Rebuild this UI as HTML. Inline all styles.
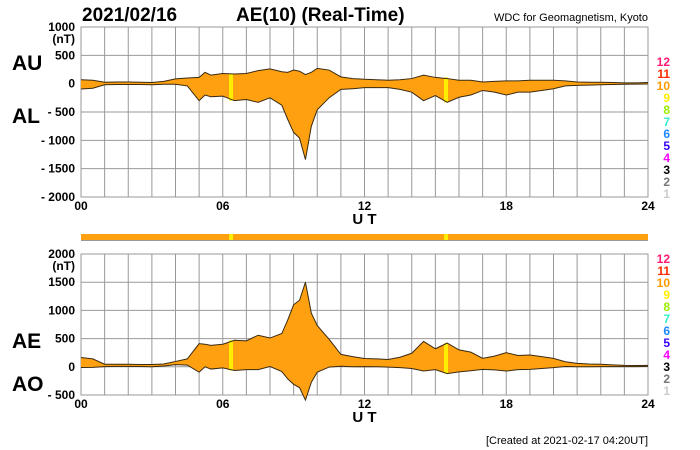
<!DOCTYPE html>
<html><head><meta charset="utf-8">
<style>
body{margin:0;background:#fff;}
svg{display:block;font-family:"Liberation Sans",sans-serif;}
</style></head>
<body>
<svg id="chart" width="700" height="450" viewBox="0 0 700 450">
<rect width="700" height="450" fill="#fff"/>
<text x="82" y="21" font-size="19" font-weight="bold">2021/02/16</text>
<text x="236" y="21" font-size="19" font-weight="bold">AE(10) (Real-Time)</text>
<text x="648" y="21" font-size="11" text-anchor="end">WDC for Geomagnetism, Kyoto</text>
<text x="12" y="70" font-size="21" font-weight="bold">AU</text>
<text x="12" y="123" font-size="21" font-weight="bold">AL</text>
<text x="12" y="348" font-size="21" font-weight="bold">AE</text>
<text x="12" y="391" font-size="21" font-weight="bold">AO</text>
<text x="648" y="444" font-size="11" text-anchor="end">[Created at 2021-02-17 04:20UT]</text>
<g id="top"></g>
<g id="bar"></g>
<g id="bot"></g>
</svg>
<script>
const hours = [0,0.5,1,1.5,2,2.5,3,3.5,4,4.5,5,5.25,5.5,6,6.5,7,7.5,8,8.5,8.75,9,9.25,9.5,9.75,10,10.5,11,11.5,12,12.5,13,13.5,14,14.5,15,15.5,16,16.5,17,17.5,18,18.5,19,19.5,20,20.5,21,21.5,22,22.5,23,23.5,24];
const auValues = [70,60,25,30,30,25,20,40,85,100,110,200,150,180,170,180,230,260,210,200,240,220,160,200,270,240,120,90,77,70,60,70,90,150,110,90,60,60,30,40,50,50,60,60,60,50,30,25,25,20,15,15,20];
const alValues = [-95,-80,-20,-15,-15,-15,-20,-10,-10,-40,-300,-200,-230,-220,-300,-280,-330,-250,-380,-630,-860,-960,-1340,-750,-460,-250,-100,-90,-70,-70,-70,-100,-150,-300,-210,-330,-240,-200,-120,-150,-200,-150,-150,-120,-90,-40,-30,-25,-20,-15,-10,-8,-5];
const stationDrops = [6.35, 15.45];
const topTicks = [1000,500,0,-500,-1000,-1500,-2000];
const botTicks = [2000,1500,1000,500,0,-500];
const xTicks = ["00","06","12","18","24"];
const countLabels = ["12","11","10","9","8","7","6","5","4","3","2","1"];
const countColors = ["#ff1a73","#ff2a00","#ff9900","#ffee00","#99ee00","#33eecc","#1e88ff","#3300ff","#ff00ff","#000","#777","#ccc"];

const NS="http://www.w3.org/2000/svg";
const X0=81,X1=648;
const xs=h=>X0+(X1-X0)*h/24;
function mk(parent,tag,attrs,name){const e=document.createElementNS(NS,tag);for(const k in attrs)e.setAttribute(k,attrs[k]);


parent.appendChild(e);return e;}

function panel(g,yTop,yBot,vMax,vMin,ticks,upper,lower,prefix,countY){
  const ys=v=>yTop+(vMax-v)*(yBot-yTop)/(vMax-vMin);
  mk(g,'rect',{x:X0,y:yTop,width:X1-X0,height:yBot-yTop,fill:'#fff',stroke:'#999'},prefix+'-plot-area');
  for(let h=1;h<24;h++) mk(g,'line',{x1:xs(h),x2:xs(h),y1:yTop,y2:yBot,stroke:'#999','stroke-width':1},prefix+'-grid-v');
  ticks.forEach((t,i)=>{
    mk(g,'line',{x1:X0,x2:X1,y1:ys(t),y2:ys(t),stroke:'#999','stroke-width':1},prefix+'-grid-h');
    const lbl=(t<0?'- '+(-t):String(t));
    const tx=mk(g,'text',{x:75,y:ys(t)+4,'font-size':12,'font-weight':'bold','text-anchor':'end'},prefix+'-y-tick');
    tx.textContent=lbl;
  });
  const nt=mk(g,'text',{x:75,y:ys(ticks[0])+16,'font-size':12,'font-weight':'bold','text-anchor':'end'},prefix+'-unit');nt.textContent='(nT)';
  let d='M'+hours.map((h,i)=>xs(h)+','+ys(upper[i])).join(' L');
  for(let i=hours.length-1;i>=0;i--) d+=' L'+xs(hours[i])+','+ys(lower[i]);
  d+='Z';
  mk(g,'path',{d:d,fill:'#ffa010',stroke:'none'},prefix+'-band');
  stationDrops.forEach(h=>{
    const i=hours.findIndex(v=>v>=h);
    const u=Math.max(upper[i],upper[i-1]),l=Math.min(lower[i],lower[i-1]);
    mk(g,'rect',{x:xs(h)-2,y:ys(u),width:4,height:ys(l)-ys(u),fill:'#ffee00'},prefix+'-station-drop');
  });
  mk(g,'polyline',{points:hours.map((h,i)=>xs(h)+','+ys(upper[i])).join(' '),fill:'none',stroke:'#3a2a10','stroke-width':1},prefix+'-upper-line');
  mk(g,'polyline',{points:hours.map((h,i)=>xs(h)+','+ys(lower[i])).join(' '),fill:'none',stroke:'#3a2a10','stroke-width':1},prefix+'-lower-line');
  xTicks.forEach((t,i)=>{const e=mk(g,'text',{x:xs(i*6),y:yBot+13,'font-size':12,'font-weight':'bold','text-anchor':'middle'},prefix+'-x-tick');e.textContent=t;});
  const ut=mk(g,'text',{x:xs(12),y:yBot+27,'font-size':15,'font-weight':'bold','text-anchor':'middle'},prefix+'-x-title');ut.textContent='U T';
  countLabels.forEach((c,i)=>{const e=mk(g,'text',{x:670,y:countY+i*12,'font-size':12,'font-weight':'bold','text-anchor':'end',fill:countColors[i]},prefix+'-count-label');e.textContent=c;});
}
const aeValues=auValues.map((u,i)=>u-alValues[i]);
const aoValues=auValues.map((u,i)=>(u+alValues[i])/2);
panel(document.getElementById('top'),27,197,1000,-2000,topTicks,auValues,alValues,'top',66);
panel(document.getElementById('bot'),254,395,2000,-500,botTicks,aeValues,aoValues,'bottom',263);
const bar=document.getElementById('bar');
mk(bar,'rect',{x:X0,y:234,width:X1-X0,height:6,fill:'#ffa010'},'count-bar-fill');
mk(bar,'line',{x1:X0,x2:X1,y1:240.5,y2:240.5,stroke:'#999'},'count-bar-edge');
stationDrops.forEach(h=>mk(bar,'rect',{x:xs(h)-2,y:234,width:4,height:6,fill:'#ffee00'},'count-bar-drop'));
</script>
</body></html>
